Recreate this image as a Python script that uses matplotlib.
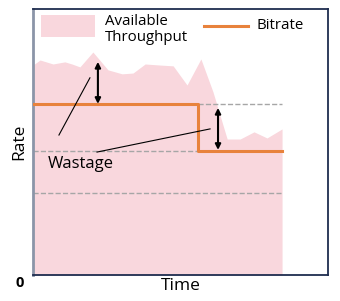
import matplotlib
matplotlib.use('Agg')
import matplotlib.pyplot as plt
from matplotlib.patches import Rectangle

plt.rcParams['font.family'] = ['Open Sans', 'DejaVu Sans']

# available throughput samples (time, rate)
tp_time = [0, 2.4, 6.8, 10.8, 13.2, 15.9, 20.3, 25.4, 30.2, 33.9, 38.0, 43.1,
           47.5, 52.2, 56.9, 61.0, 65.8, 70.2, 74.9, 79.3, 84.4]
tp_rate = [78.9, 80.8, 79.3, 80.1, 79.3, 78.2, 83.8, 77.1, 75.6, 75.9, 79.3, 78.9,
           78.6, 71.4, 81.2, 68.8, 51.1, 51.1, 53.8, 51.5, 54.9]

# bitrate steps
br_time = [0, 55.9, 84.4]
br_rate = [64.3, 46.6, 46.6]
low_level = 30.8

# wastage arrows: (time, top, bottom)
arrows = [(22.0, 80.1, 64.3), (62.7, 62.8, 47.0)]
# pointer lines from the label
pointers = [((19.3, 74.1), (8.8, 52.6)), ((60.0, 54.9), (21.7, 46.2))]

pink = '#f9d7dd'
orange = '#e8823c'
grey = '#a6a6a6'

fig = plt.figure(figsize=(3.4, 3.01), dpi=100)
ax = fig.add_axes([0.097, 0.0864, 0.868, 0.884])

ax.fill_between(tp_time, 0, tp_rate, color=pink, lw=0, zorder=1)

# dashed reference levels
ax.plot([br_time[1], br_time[2]], [br_rate[0], br_rate[0]], ls='--', color=grey, lw=1, zorder=2)
ax.plot([br_time[0], br_time[1]], [br_rate[1], br_rate[1]], ls='--', color=grey, lw=1, zorder=2)
ax.plot([br_time[0], br_time[2]], [low_level, low_level], ls='--', color=grey, lw=1, zorder=2)

ax.plot(br_time, br_rate, drawstyle='steps-post', color=orange, lw=2.2, zorder=3)

for x, top, bot in arrows:
    ax.annotate('', xy=(x, top), xytext=(x, bot),
                arrowprops=dict(arrowstyle='<|-|>', color='black', lw=1.5,
                                mutation_scale=8, shrinkA=0, shrinkB=0), zorder=4)
for (x0, y0), (x1, y1) in pointers:
    ax.plot([x0, x1], [y0, y1], color='black', lw=0.8, zorder=4)

ax.text(5.1, 41.7, 'Wastage', fontsize=12, va='center', ha='left')

# legend drawn by hand
ax.add_patch(Rectangle((0.027, 0.895), 0.183, 0.082, transform=ax.transAxes,
                       color=pink, lw=0, zorder=5))
ax.text(0.244, 0.923, 'Available\nThroughput', transform=ax.transAxes,
        fontsize=10.8, va='center', ha='left', linespacing=1.05)
ax.plot([0.58, 0.729], [0.936, 0.936], transform=ax.transAxes, color=orange, lw=2.2)
ax.text(0.759, 0.936, 'Bitrate', transform=ax.transAxes, fontsize=10.8,
        va='center', ha='left')

ax.text(-0.046, -0.03, '0', transform=ax.transAxes, fontsize=10.5,
        fontweight='bold', ha='center', va='center')

ax.set_xlim(0, 100)
ax.set_ylim(0, 100)
ax.set_xticks([])
ax.set_yticks([])
ax.set_xlabel('Time', fontsize=12.5, labelpad=2)
ax.set_ylabel('Rate', fontsize=12.5, labelpad=4)

for side in ['top', 'right', 'bottom']:
    ax.spines[side].set_color('#1f2d4f')
    ax.spines[side].set_linewidth(1.3)
ax.spines['left'].set_color('#8b95a8')
ax.spines['left'].set_linewidth(2)

fig.savefig('out.png', dpi=100)
